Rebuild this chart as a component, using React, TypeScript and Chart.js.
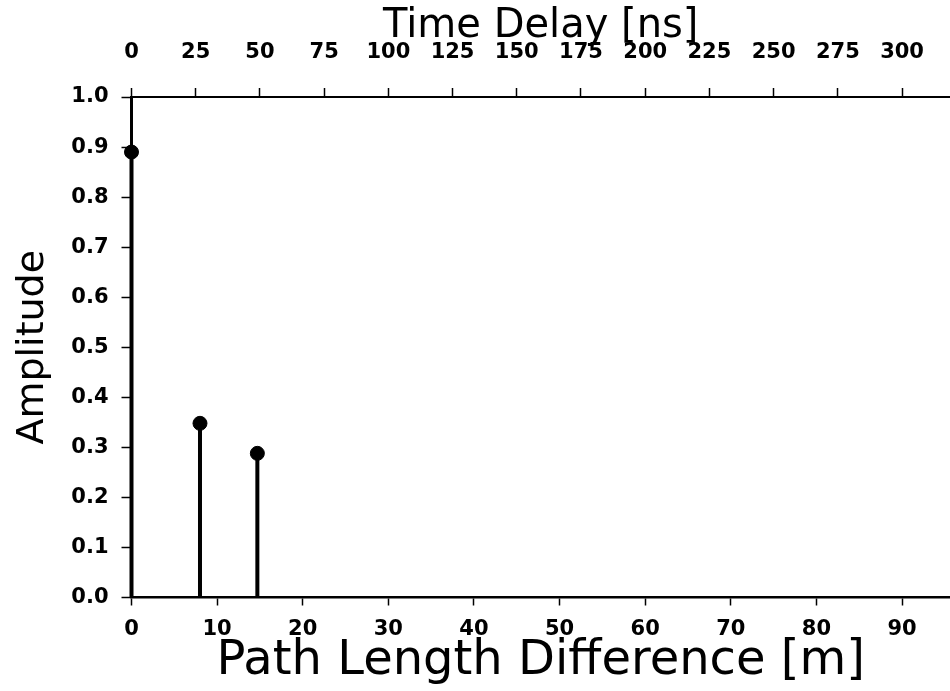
import React, { useEffect, useRef } from "react";
import { Chart, registerables } from "chart.js";

Chart.register(...registerables);

// ---- data ----
const pathLengthDiffM = [0, 8.0, 14.7];
const amplitudes = [0.89, 0.348, 0.288];

const bottomTicksM = [0, 10, 20, 30, 40, 50, 60, 70, 80, 90];
const topTicksNs = [0, 25, 50, 75, 100, 125, 150, 175, 200, 225, 250, 275, 300];
const yTicks = [0, 0.1, 0.2, 0.3, 0.4, 0.5, 0.6, 0.7, 0.8, 0.9, 1.0];

const xMinM = 0;
const xMaxM = 95.6;
const metresPerNs = 0.3;

const FONT = "'DejaVu Sans', 'Liberation Sans', sans-serif";

export default function App() {
  const ref = useRef<HTMLCanvasElement | null>(null);

  useEffect(() => {
    if (!ref.current) return;
    Chart.defaults.font.family = FONT;
    Chart.defaults.color = "#000";

    const stemData: { x: number; y: number | null }[] = [];
    pathLengthDiffM.forEach((x, i) => {
      stemData.push({ x, y: 0 });
      stemData.push({ x, y: amplitudes[i] });
      stemData.push({ x, y: null });
    });
    const dotData = pathLengthDiffM.map((x, i) => ({ x, y: amplitudes[i] }));

    const tickFont = { family: FONT, size: 21, weight: "bold" as const };
    const noPad = (s: any) => {
      s.paddingLeft = 0;
      s.paddingRight = 0;
    };

    const chart = new Chart(ref.current, {
      type: "scatter",
      data: {
        datasets: [
          {
            data: stemData as any,
            showLine: true,
            spanGaps: false,
            borderColor: "#000",
            borderWidth: 4,
            pointRadius: 0,
            clip: false as any,
          },
          {
            data: dotData,
            showLine: false,
            backgroundColor: "#000",
            borderColor: "#000",
            pointRadius: 7,
            pointHoverRadius: 7,
            clip: false as any,
          },
        ],
      },
      options: {
        responsive: false,
        animation: false,
        layout: { padding: 0, autoPadding: false },
        plugins: { legend: { display: false }, tooltip: { enabled: false } },
        scales: {
          x: {
            type: "linear",
            position: "bottom",
            min: xMinM,
            max: xMaxM,
            afterBuildTicks: (s: any) => {
              s.ticks = bottomTicksM.map((v) => ({ value: v }));
            },
            afterFit: (s: any) => {
              s.height = 93.5;
              noPad(s);
            },
            grid: {
              drawOnChartArea: false,
              drawTicks: true,
              tickLength: 8,
              tickColor: "#000",
              tickWidth: 1.5,
            },
            border: { display: true, color: "#000", width: 2.5 },
            ticks: {
              font: tickFont,
              padding: 11,
              maxRotation: 0,
              autoSkip: false,
              callback: (v: any) => String(v),
            },
            title: {
              display: true,
              text: "Path Length Difference [m]",
              font: { family: FONT, size: 48 },
              padding: { top: 0, bottom: 1 },
            },
          },
          x2: {
            type: "linear",
            position: "top",
            min: xMinM / metresPerNs,
            max: xMaxM / metresPerNs,
            afterBuildTicks: (s: any) => {
              s.ticks = topTicksNs.map((v) => ({ value: v }));
            },
            afterFit: (s: any) => {
              s.height = 97;
              noPad(s);
            },
            grid: {
              drawOnChartArea: false,
              drawTicks: true,
              tickLength: 9,
              tickColor: "#000",
              tickWidth: 1.5,
            },
            border: { display: true, color: "#000", width: 2 },
            ticks: {
              font: tickFont,
              padding: 23,
              maxRotation: 0,
              autoSkip: false,
              callback: (v: any) => String(v),
            },
            title: {
              display: true,
              text: "Time Delay [ns]",
              font: { family: FONT, size: 40 },
              padding: { top: 3, bottom: 0 },
            },
          },
          y: {
            type: "linear",
            position: "left",
            min: 0,
            max: 1,
            afterBuildTicks: (s: any) => {
              s.ticks = yTicks.map((v) => ({ value: v }));
            },
            afterFit: (s: any) => {
              s.width = 131.5;
            },
            grid: {
              drawOnChartArea: false,
              drawTicks: true,
              tickLength: 10,
              tickColor: "#000",
              tickWidth: 1.5,
            },
            border: { display: true, color: "#000", width: 3 },
            ticks: {
              font: tickFont,
              padding: 13,
              autoSkip: false,
              callback: (v: any) => Number(v).toFixed(1),
            },
            title: {
              display: true,
              text: "Amplitude",
              font: { family: FONT, size: 38 },
              padding: { top: 10, bottom: 0 },
            },
          },
        },
      },
    });
    return () => chart.destroy();
  }, []);

  return (
    <div style={{ position: "absolute", left: 0, top: 0, width: 950, height: 691, background: "#fff" }}>
      <canvas ref={ref} width={950} height={691} style={{ display: "block" }} />
    </div>
  );
}
